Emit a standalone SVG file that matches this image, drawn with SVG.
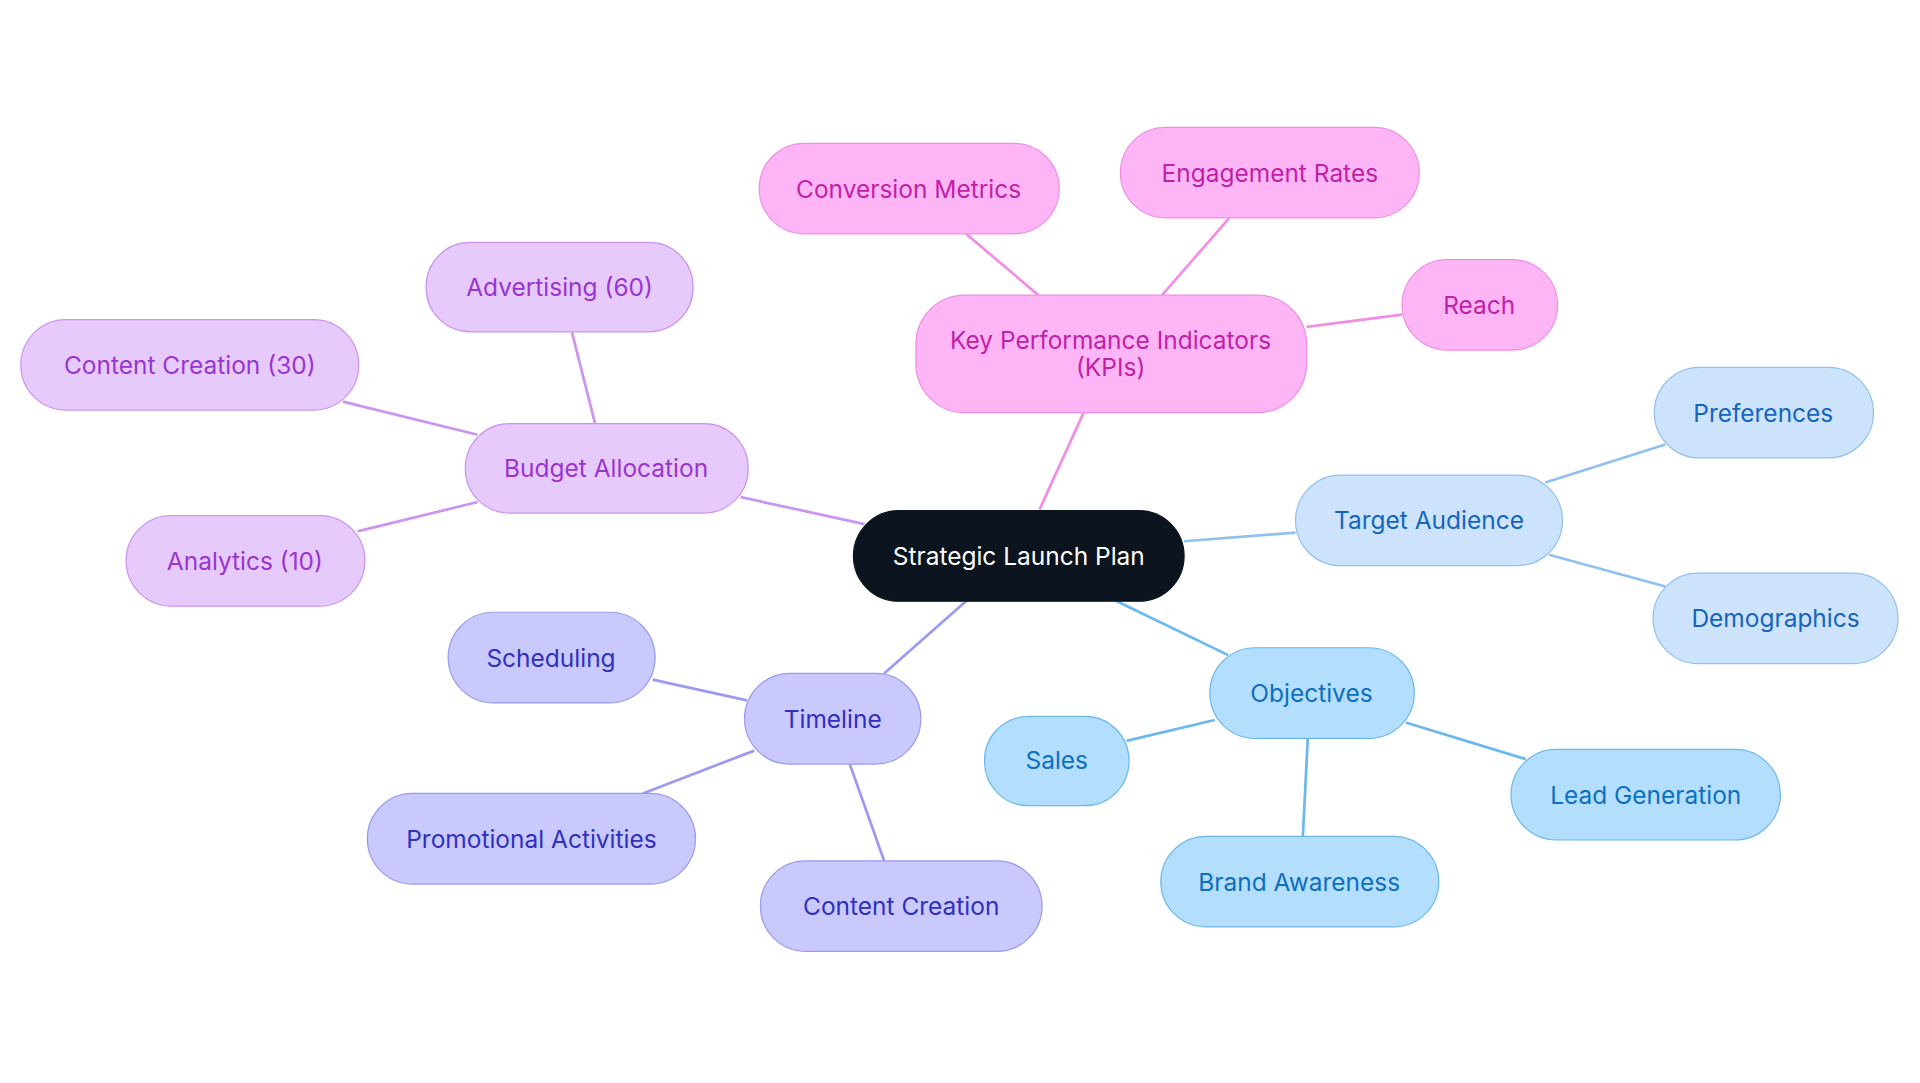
<svg xmlns="http://www.w3.org/2000/svg" width="1920" height="1083" viewBox="0 0 1920 1083">
<style>
text{font-family:Inter,"Noto Sans","Liberation Sans",sans-serif;font-size:20px;text-anchor:middle;dominant-baseline:central}
rect{stroke-width:1}
.e line{stroke-width:2.2;fill:none}
.k rect{fill:#fdb5f5;stroke:#f08ee5}.k text{fill:#c21fa8}
.t rect{fill:#cce3fb;stroke:#90c0ef}.t text{fill:#1565c0}
.o rect{fill:#b3defd;stroke:#6bb8ee}.o text{fill:#0d6fbf}
.l rect{fill:#c9c9fd;stroke:#9a9af0}.l text{fill:#3030c0}
.b rect{fill:#e6cafc;stroke:#cc93f0}.b text{fill:#9a34d0}
</style>
<rect width="1920" height="1083" fill="#fff"/>
<g transform="scale(1.2245)">
<g id="connectors" class="e">
<g stroke="#f08ee5"><line x1="849" y1="416" x2="885" y2="337"/><line x1="848" y1="241" x2="789" y2="191"/><line x1="949" y1="241" x2="1004" y2="178"/><line x1="1067" y1="267" x2="1145" y2="257"/></g>
<g stroke="#90c0ef"><line x1="967" y1="442" x2="1058" y2="435"/><line x1="1262" y1="394" x2="1360" y2="363"/><line x1="1265" y1="453" x2="1360" y2="479"/></g>
<g stroke="#6bb8ee"><line x1="910" y1="490" x2="1003" y2="535"/><line x1="992" y1="588" x2="920" y2="605"/><line x1="1068" y1="603" x2="1064" y2="683"/><line x1="1148" y1="590" x2="1246" y2="620"/></g>
<g stroke="#9a9af0"><line x1="790" y1="490" x2="722" y2="550"/><line x1="610" y1="572" x2="533" y2="555"/><line x1="616" y1="613" x2="525" y2="648"/><line x1="694" y1="624" x2="722" y2="703"/></g>
<g stroke="#cc93f0"><line x1="706" y1="428" x2="605" y2="406"/><line x1="486" y1="346" x2="467" y2="271"/><line x1="390" y1="355" x2="280" y2="328"/><line x1="390" y1="410" x2="292" y2="434"/></g>
</g>
<g id="center"><rect x="697" y="417" width="270" height="74" rx="37" fill="#0b141f" stroke="#0b141f"/><text x="832" y="454" fill="#fff">Strategic Launch Plan</text></g>
<g id="kpi" class="k"><rect x="748" y="241" width="319" height="96" rx="40"/><text x="907" y="278">Key Performance Indicators</text><text x="907" y="300">(KPIs)</text></g>
<g id="conv" class="k"><rect x="620" y="117" width="245" height="74" rx="37"/><text x="742" y="154">Conversion Metrics</text></g>
<g id="eng" class="k"><rect x="915" y="104" width="244" height="74" rx="37"/><text x="1037" y="141">Engagement Rates</text></g>
<g id="reach" class="k"><rect x="1145" y="212" width="127" height="74" rx="37"/><text x="1208" y="249">Reach</text></g>
<g id="ta" class="t"><rect x="1058" y="388" width="218" height="74" rx="37"/><text x="1167" y="425">Target Audience</text></g>
<g id="pref" class="t"><rect x="1351" y="300" width="179" height="74" rx="37"/><text x="1440" y="337">Preferences</text></g>
<g id="demo" class="t"><rect x="1350" y="468" width="200" height="74" rx="37"/><text x="1450" y="505">Demographics</text></g>
<g id="obj" class="o"><rect x="988" y="529" width="167" height="74" rx="37"/><text x="1071" y="566">Objectives</text></g>
<g id="sales" class="o"><rect x="804" y="585" width="118" height="73" rx="36"/><text x="863" y="621">Sales</text></g>
<g id="brand" class="o"><rect x="948" y="683" width="227" height="74" rx="37"/><text x="1061" y="720">Brand Awareness</text></g>
<g id="lead" class="o"><rect x="1234" y="612" width="220" height="74" rx="37"/><text x="1344" y="649">Lead Generation</text></g>
<g id="timeline" class="l"><rect x="608" y="550" width="144" height="74" rx="37"/><text x="680" y="587">Timeline</text></g>
<g id="sched" class="l"><rect x="366" y="500" width="169" height="74" rx="37"/><text x="450" y="537">Scheduling</text></g>
<g id="promo" class="l"><rect x="300" y="648" width="268" height="74" rx="37"/><text x="434" y="685">Promotional Activities</text></g>
<g id="content" class="l"><rect x="621" y="703" width="230" height="74" rx="37"/><text x="736" y="740">Content Creation</text></g>
<g id="budget" class="b"><rect x="380" y="346" width="231" height="73" rx="36"/><text x="495" y="382">Budget Allocation</text></g>
<g id="adv" class="b"><rect x="348" y="198" width="218" height="73" rx="36"/><text x="457" y="234">Advertising (60)</text></g>
<g id="cc30" class="b"><rect x="17" y="261" width="276" height="74" rx="37"/><text x="155" y="298">Content Creation (30)</text></g>
<g id="anal" class="b"><rect x="103" y="421" width="195" height="74" rx="37"/><text x="200" y="458">Analytics (10)</text></g>
</g>
</svg>
